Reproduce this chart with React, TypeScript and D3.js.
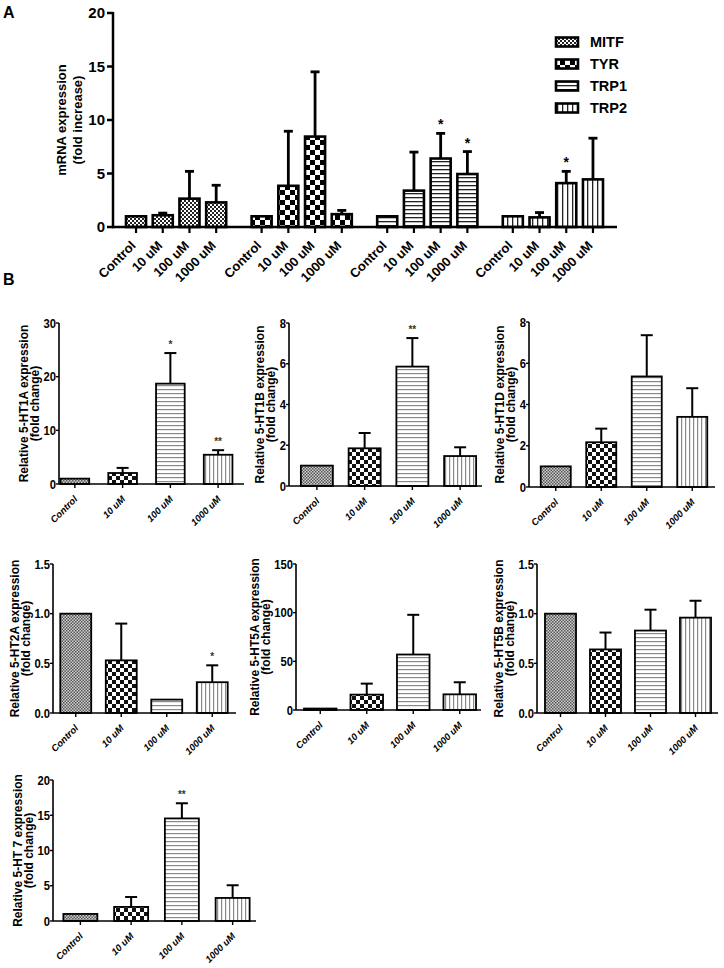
import React from "react";
import * as d3 from "d3";

// categories
const conditions = ["Control", "10 uM", "100 uM", "1000 uM"];
const genes = ["MITF", "TYR", "TRP1", "TRP2"];

// panel A: mean and SEM (upper bar) per gene
const mitfMean = [1.0, 1.1, 2.65, 2.3];
const mitfSem = [0, 0.2, 2.55, 1.6];
const tyrMean = [1.0, 3.85, 8.45, 1.2];
const tyrSem = [0, 5.1, 6.05, 0.35];
const trp1Mean = [1.0, 3.4, 6.4, 4.95];
const trp1Sem = [0, 3.6, 2.35, 2.1];
const trp2Mean = [1.0, 0.9, 4.1, 4.45];
const trp2Sem = [0, 0.45, 1.1, 3.85];
const trp1Stars = ["", "", "*", "*"];
const trp2Stars = ["", "", "*", ""];
const noStars = ["", "", "", ""];
const ticksA = [0, 5, 10, 15, 20];

// panel B: receptors
const ht1aMean = [1.0, 2.05, 18.7, 5.45];
const ht1aSem = [0, 0.95, 5.7, 0.85];
const ht1aStars = ["", "", "*", "**"];
const ht1bMean = [1.0, 1.85, 5.86, 1.47];
const ht1bSem = [0, 0.75, 1.4, 0.43];
const ht1bStars = ["", "", "**", ""];
const ht1dMean = [1.0, 2.17, 5.36, 3.4];
const ht1dSem = [0, 0.66, 2.0, 1.39];
const ht2aMean = [1.0, 0.53, 0.135, 0.31];
const ht2aSem = [0, 0.37, 0, 0.17];
const ht2aStars = ["", "", "", "*"];
const ht5aMean = [1.5, 15.8, 57, 16.1];
const ht5aSem = [0, 11.3, 40.8, 12.4];
const ht5bMean = [1.0, 0.64, 0.83, 0.96];
const ht5bSem = [0, 0.17, 0.21, 0.17];
const ht7Mean = [1.0, 2.0, 14.55, 3.27];
const ht7Sem = [0, 1.4, 2.15, 1.8];
const ht7Stars = ["", "", "**", ""];

const FONT = "'Liberation Sans', Arial, sans-serif";

const fillsA = ["url(#fineA)", "url(#checkA)", "url(#hA)", "url(#vA)"];
const fillsB = ["url(#fineB)", "url(#checkB)", "url(#hB)", "url(#vB)"];

const Patterns = () => (
  <defs>
    <pattern id="fineA" width="4" height="4" patternUnits="userSpaceOnUse">
      <rect width="4" height="4" fill="#fff" />
      <rect width="2" height="2" fill="#222" />
      <rect x="2" y="2" width="2" height="2" fill="#222" />
    </pattern>
    <pattern id="checkA" width="10" height="10" patternUnits="userSpaceOnUse">
      <rect width="10" height="10" fill="#fff" />
      <rect width="5" height="5" fill="#000" />
      <rect x="5" y="5" width="5" height="5" fill="#000" />
    </pattern>
    <pattern id="hA" width="4" height="4" patternUnits="userSpaceOnUse">
      <rect width="4" height="4" fill="#fff" />
      <rect y="1" width="4" height="1.3" fill="#222" />
    </pattern>
    <pattern id="vA" width="5" height="5" patternUnits="userSpaceOnUse">
      <rect width="5" height="5" fill="#fff" />
      <rect x="2" width="1.3" height="5" fill="#222" />
    </pattern>
    <pattern id="fineB" width="3" height="3" patternUnits="userSpaceOnUse">
      <rect width="3" height="3" fill="#cfcfcf" />
      <rect width="1.5" height="1.5" fill="#555" />
      <rect x="1.5" y="1.5" width="1.5" height="1.5" fill="#555" />
    </pattern>
    <pattern id="checkB" width="8" height="8" patternUnits="userSpaceOnUse">
      <rect width="8" height="8" fill="#fff" />
      <rect width="4" height="4" fill="#111" />
      <rect x="4" y="4" width="4" height="4" fill="#111" />
    </pattern>
    <pattern id="hB" width="4" height="4" patternUnits="userSpaceOnUse">
      <rect width="4" height="4" fill="#fff" />
      <rect y="1" width="4" height="1.2" fill="#8a8a8a" />
    </pattern>
    <pattern id="vB" width="4" height="4" patternUnits="userSpaceOnUse">
      <rect width="4" height="4" fill="#fff" />
      <rect x="1" width="1.2" height="4" fill="#8a8a8a" />
    </pattern>
  </defs>
);

const seriesA = [
  { name: genes[0], mean: mitfMean, sem: mitfSem, stars: noStars },
  { name: genes[1], mean: tyrMean, sem: tyrSem, stars: noStars },
  { name: genes[2], mean: trp1Mean, sem: trp1Sem, stars: trp1Stars },
  { name: genes[3], mean: trp2Mean, sem: trp2Sem, stars: trp2Stars },
];

const PanelA = () => {
  const x0 = 113;
  const xEnd = 617;
  const y = d3.scaleLinear().domain([0, 20]).range([227, 13]);
  const gx = d3.scaleBand().domain(genes).range([x0, xEnd - 1]).paddingInner(0.149).paddingOuter(0.077);
  const ix = d3
    .scaleBand()
    .domain(conditions)
    .range([0, gx.bandwidth()])
    .paddingInner(0.25)
    .paddingOuter(0.125);
  const bw = ix.bandwidth();
  return (
    <g fontFamily={FONT} fontWeight="bold">
      <text x={3} y={18} fontSize={16}>A</text>
      {/* y axis */}
      <line x1={x0} x2={x0} y1={y(20) - 1} y2={y(0) + 1.2} stroke="#000" strokeWidth={2.5} />
      {ticksA.map((t) => (
        <g key={t}>
          <line x1={x0 - 6} x2={x0} y1={y(t)} y2={y(t)} stroke="#000" strokeWidth={2.5} />
          <text x={x0 - 8} y={y(t)} dy="0.36em" textAnchor="end" fontSize={15}>
            {t}
          </text>
        </g>
      ))}
      <g transform={`translate(70,${y(10)}) rotate(-90)`} fontSize={13} textAnchor="middle">
        <text y={-4}>mRNA expression</text>
        <text y={12}>(fold increase)</text>
      </g>
      {seriesA.map((s, si) => {
        const gStart = gx(s.name) as number;
        return (
          <g key={s.name}>
            {conditions.map((c, i) => {
              const cx = gStart + (ix(c) as number) + bw / 2;
              const top = y(s.mean[i]);
              const cap = y(s.mean[i] + s.sem[i]);
              return (
                <g key={c}>
                  <line x1={cx} x2={cx} y1={y(0)} y2={y(0) + 6} stroke="#000" strokeWidth={2.2} />
                  {s.sem[i] > 0 && (
                    <g stroke="#000" strokeWidth={2.8}>
                      <line x1={cx} x2={cx} y1={top} y2={cap} />
                      <line x1={cx - 4.5} x2={cx + 4.5} y1={cap} y2={cap} />
                    </g>
                  )}
                  <rect
                    x={cx - bw / 2}
                    y={top}
                    width={bw}
                    height={y(0) - top}
                    fill={fillsA[si]}
                    stroke="#000"
                    strokeWidth={2.6}
                  />
                  {s.stars[i] && (
                    <text x={cx} y={cap - 4} textAnchor="middle" fontSize={14}>
                      {s.stars[i]}
                    </text>
                  )}
                  <text
                    transform={`translate(${cx - 6},${y(0) + 13}) rotate(-45)`}
                    textAnchor="end"
                    dy="0.7em"
                    fontSize={13}
                  >
                    {c}
                  </text>
                </g>
              );
            })}
          </g>
        );
      })}
      {/* x axis */}
      <line x1={x0 - 1} x2={xEnd} y1={y(0)} y2={y(0)} stroke="#000" strokeWidth={2.5} />
      {/* legend */}
      {genes.map((g, i) => {
        const ly = 42 + i * 22;
        return (
          <g key={g}>
            <rect x={556} y={ly - 4.5} width={22} height={9} fill={fillsA[i]} stroke="#000" strokeWidth={2.6} />
            <text x={590} y={ly} dy="0.36em" fontSize={14.5}>
              {g}
            </text>
          </g>
        );
      })}
    </g>
  );
};

type SmallProps = {
  label: string;
  mean: number[];
  sem: number[];
  stars: string[];
  max: number;
  ticks: number[];
  fmt: string;
  x0: number;
  xEnd: number;
  yTop: number;
  yBot: number;
  band: [number, number];
  pad: number;
};

const TICK_SIZE = 12.5;
const TICK_SCALE = 0.9;

// rough width of a tick label (Arial-like metrics)
const tickWidth = (s: string) =>
  s.split("").reduce((w, ch) => w + (ch === "." ? 0.278 : 0.556), 0) * TICK_SIZE * TICK_SCALE;

const SmallChart = (p: SmallProps) => {
  const y = d3.scaleLinear().domain([0, p.max]).range([p.yBot, p.yTop]);
  const x = d3.scaleBand().domain(conditions).range(p.band).paddingInner(p.pad).paddingOuter(p.pad / 2);
  const bw = x.bandwidth();
  const f = d3.format(p.fmt);
  const mid = (p.yTop + p.yBot) / 2;
  const maxW = d3.max(p.ticks, (t) => tickWidth(f(t))) as number;
  const base2 = p.x0 - 3 - maxW - 4.5;
  return (
    <g fontFamily={FONT} fontWeight="bold">
      <line x1={p.x0} x2={p.x0} y1={p.yTop} y2={p.yBot} stroke="#000" strokeWidth={1.6} />
      {p.ticks.map((t) => (
        <g key={t}>
          <line x1={p.x0 - 3} x2={p.x0} y1={y(t)} y2={y(t)} stroke="#000" strokeWidth={1.4} />
          <text
            transform={`translate(${p.x0 - 3},${y(t)}) scale(${TICK_SCALE},1)`}
            dy="0.36em"
            textAnchor="end"
            fontSize={TICK_SIZE}
          >
            {f(t)}
          </text>
        </g>
      ))}
      <g transform={`translate(${base2},${mid}) rotate(-90)`} fontSize={12} textAnchor="middle">
        <text y={-11}>{p.label}</text>
        <text y={0}>(fold change)</text>
      </g>
      {conditions.map((c, i) => {
        const cx = (x(c) as number) + bw / 2;
        const top = y(p.mean[i]);
        const cap = y(p.mean[i] + p.sem[i]);
        return (
          <g key={c}>
            <line x1={cx} x2={cx} y1={p.yBot} y2={p.yBot + 4} stroke="#000" strokeWidth={1.4} />
            {p.sem[i] > 0 && (
              <g stroke="#000" strokeWidth={2}>
                <line x1={cx} x2={cx} y1={top} y2={cap} />
                <line x1={cx - 6} x2={cx + 6} y1={cap} y2={cap} />
              </g>
            )}
            <rect
              x={cx - bw / 2}
              y={top}
              width={bw}
              height={p.yBot - top}
              fill={fillsB[i]}
              stroke="#000"
              strokeWidth={1.8}
            />
            {p.stars[i] && (
              <text x={cx} y={cap - 5} textAnchor="middle" fontSize={10} fill="#333">
                {p.stars[i]}
              </text>
            )}
            <text
              transform={`translate(${cx - 1.5},${p.yBot + 11}) rotate(-45)`}
              textAnchor="end"
              dy="0.7em"
              fontSize={9.5}
              fontStyle="italic"
            >
              {c}
            </text>
          </g>
        );
      })}
      <line x1={p.x0} x2={p.xEnd} y1={p.yBot} y2={p.yBot} stroke="#000" strokeWidth={1.6} />
    </g>
  );
};

const smallCharts: SmallProps[] = [
  { label: "Relative 5-HT1A expression", mean: ht1aMean, sem: ht1aSem, stars: ht1aStars, max: 30, ticks: [0, 10, 20, 30], fmt: "d",
    x0: 59, xEnd: 244, yTop: 323, yBot: 484, band: [51, 242], pad: 0.4 },
  { label: "Relative 5-HT1B expression", mean: ht1bMean, sem: ht1bSem, stars: ht1bStars, max: 8, ticks: [0, 2, 4, 6, 8], fmt: "d",
    x0: 289, xEnd: 482, yTop: 323, yBot: 486, band: [293, 484], pad: 0.33 },
  { label: "Relative 5-HT1D expression", mean: ht1dMean, sem: ht1dSem, stars: noStars, max: 8, ticks: [0, 2, 4, 6, 8], fmt: "d",
    x0: 529, xEnd: 715, yTop: 322, yBot: 487, band: [533, 715], pad: 0.34 },
  { label: "Relative 5-HT2A expression", mean: ht2aMean, sem: ht2aSem, stars: ht2aStars, max: 1.5, ticks: [0, 0.5, 1, 1.5], fmt: ".1f",
    x0: 53, xEnd: 236, yTop: 564, yBot: 713, band: [53, 235], pad: 0.32 },
  { label: "Relative 5-HT5A expression", mean: ht5aMean, sem: ht5aSem, stars: noStars, max: 150, ticks: [0, 50, 100, 150], fmt: "d",
    x0: 296, xEnd: 481, yTop: 564, yBot: 710, band: [297, 483], pad: 0.3 },
  { label: "Relative 5-HT5B expression", mean: ht5bMean, sem: ht5bSem, stars: noStars, max: 1.5, ticks: [0, 0.5, 1, 1.5], fmt: ".1f",
    x0: 537, xEnd: 718, yTop: 564, yBot: 713, band: [538, 718], pad: 0.31 },
  { label: "Relative 5-HT 7 expression", mean: ht7Mean, sem: ht7Sem, stars: ht7Stars, max: 20, ticks: [0, 5, 10, 15, 20], fmt: "d",
    x0: 53, xEnd: 256, yTop: 780, yBot: 921, band: [55, 258], pad: 0.33 },
];

export default function App() {
  return (
    <svg
      width={724}
      height={968}
      style={{ position: "absolute", left: 0, top: 0, background: "#fff" }}
    >
      <Patterns />
      <PanelA />
      <text x={3} y={285} fontFamily={FONT} fontWeight="bold" fontSize={16}>B</text>
      {smallCharts.map((c) => (
        <SmallChart key={c.label} {...c} />
      ))}
    </svg>
  );
}
